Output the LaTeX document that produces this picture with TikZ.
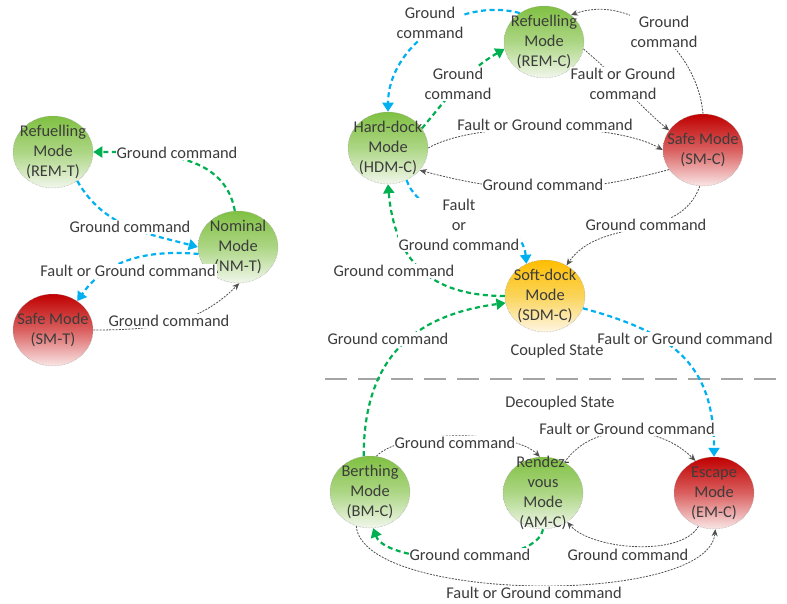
\documentclass[tikz,border=0pt]{standalone}
\usepackage{fontspec}
\setmainfont{Carlito}
\usetikzlibrary{shapes.geometric,arrows.meta}

\definecolor{txt}{RGB}{60,60,60}
\definecolor{cblue}{RGB}{0,176,240}
\definecolor{cgreen}{RGB}{0,176,80}
\definecolor{cgray}{RGB}{80,80,80}
\definecolor{gtop}{RGB}{128,192,66}
\definecolor{gmid}{RGB}{172,214,132}
\definecolor{gbot}{RGB}{242,247,236}
\definecolor{rtop}{RGB}{192,0,0}
\definecolor{rmid}{RGB}{218,96,96}
\definecolor{rbot}{RGB}{250,230,230}
\definecolor{otop}{RGB}{255,190,0}
\definecolor{omid}{RGB}{250,212,90}
\definecolor{obot}{RGB}{255,246,228}
\definecolor{sepgray}{RGB}{165,165,165}

\begin{document}
\begin{tikzpicture}[x=1pt,y=1pt,
  font=\fontsize{16.4}{20}\selectfont,
  mode/.style={ellipse, minimum width=80pt, minimum height=72pt,
    inner sep=-15pt, align=center, text=txt,
    draw=gray!75, densely dotted, line width=0.5pt},
  okmode/.style={mode, top color=gtop, bottom color=gbot, middle color=gmid},
  badmode/.style={mode, top color=rtop, bottom color=rbot, middle color=rmid},
  dockmode/.style={mode, top color=otop, bottom color=obot, middle color=omid},
  lbl/.style={fill=white, inner sep=1pt, text=txt, align=center},
  grayedge/.style={draw=cgray, line width=0.8pt, dash pattern=on 2pt off 1.2pt,
    -{Stealth[length=7pt,width=6pt]}},
  blueedge/.style={draw=cblue, line width=2.2pt, dash pattern=on 5pt off 3.5pt,
    -{Triangle[length=9pt,width=11pt]}},
  greenedge/.style={draw=cgreen, line width=2.2pt, dash pattern=on 5pt off 3.5pt,
    -{Triangle[length=9pt,width=11pt]}},
  sepline/.style={draw=sepgray, line width=2.4pt, dash pattern=on 22pt off 11pt}]

\useasboundingbox (0,0) rectangle (787,-604);

% ---- modes of the tanker (left)
\node[okmode]  (remT) at (53,-152)  {Refuelling\\Mode\\(REM-T)};
\node[okmode]  (nmT)  at (238,-247) {Nominal\\Mode\\(NM-T)};
\node[badmode] (smT)  at (53,-330)  {Safe Mode\\(SM-T)};

% ---- modes of the chaser (right)
\node[okmode]   (remC) at (544,-42)  {Refuelling\\Mode\\(REM-C)};
\node[okmode]   (hdmC) at (388,-148) {Hard-dock\\Mode\\(HDM-C)};
\node[badmode]  (smC)  at (703,-150) {Safe Mode\\(SM-C)};
\node[dockmode] (sdmC) at (545,-296) {Soft-dock\\Mode\\(SDM-C)};
\node[okmode]   (bmC)  at (370,-492) {Berthing\\Mode\\(BM-C)};
\node[okmode]   (amC)  at (543,-493) {Rendez-\\vous\\Mode\\(AM-C)};
\node[badmode]  (emC)  at (714,-493) {Escape\\Mode\\(EM-C)};

% ---- coupled / decoupled separator
\coordinate (sepL) at (325,-379);
\coordinate (sepR) at (787,-379);
\draw[sepline] (sepL) -- (sepR);

% ---- transitions, left
\draw[greenedge] (nmT.95) to[out=100,in=0] (remT.east);
\draw[blueedge] (remT.-50) to[out=-60,in=165] (nmT.west);
\draw[blueedge] (nmT.190) to[out=175,in=55] (smT.50);
\draw[grayedge] (smT.east) to[out=0,in=225] (nmT.-88);

% ---- transitions, coupled state
\draw[blueedge] (remC.130) to[out=165,in=90] (hdmC.north);
\draw[greenedge] (hdmC.30) to[out=50,in=210] (remC.190);
\draw[grayedge] (hdmC.east) to[out=30,in=150,looseness=0.6] (smC.west);
\draw[grayedge] (smC.210) to[out=195,in=-15] (hdmC.-35);
\draw[grayedge] (smC.north) to[out=95,in=20] (remC.45);
\draw[grayedge] (remC.-10) to[out=-40,in=140] (smC.150);
\draw[blueedge] (hdmC.-60) to[out=-70,in=95] (sdmC.120);
\draw[grayedge] (smC.-95) to[out=-110,in=55] (sdmC.55);
\draw[greenedge] (sdmC.west) to[out=180,in=-85,looseness=1.2] (hdmC.south);
\draw[greenedge] (bmC.100) .. controls +(0,100) and +(-90,-12) .. (sdmC.190);
\draw[blueedge] (sdmC.-18) to[out=-15,in=90,looseness=1.2] (emC.north);

% ---- transitions, decoupled state
\draw[grayedge] (bmC.80) to[out=45,in=135,looseness=0.6] (amC.95);
\draw[grayedge] (amC.55) to[out=55,in=135] (emC.120);
\draw[greenedge] (amC.south) to[out=-100,in=-70,looseness=0.6] (bmC.-85);
\draw[grayedge] (emC.-115) to[out=-120,in=-50,looseness=0.7] (amC.-50);
\draw[grayedge] (bmC.-112) to[out=-85,in=-95,looseness=0.55] (emC.-88);

% ---- transition labels
\node[lbl] (l1)  at (177,-153) {Ground command};
\node[lbl] (l2)  at (130,-227) {Ground command};
\node[lbl] (l3)  at (128,-271) {Fault or Ground command};
\node[lbl] (l4)  at (169,-321) {Ground command};
\node[lbl] (l5)  at (430,-23)  {Ground\\command};
\node[lbl] (l6)  at (458,-84)  {Ground\\command};
\node[lbl] (l7)  at (545,-125) {Fault or Ground command};
\node[lbl] (l8)  at (543,-185) {Ground command};
\node[lbl] (l9)  at (664,-32)  {Ground\\command};
\node[lbl] (l10) at (623,-84)  {Fault or Ground\\command};
\node[lbl] (l11) at (459,-225) {Fault\\or\\Ground command};
\node[lbl] (l12) at (646,-225) {Ground command};
\node[lbl] (l13) at (394,-271) {Ground command};
\node[lbl] (l14) at (388,-339) {Ground command};
\node[lbl] (l15) at (685,-339) {Fault or Ground command};
\node[lbl] (l18) at (455,-443) {Ground command};
\node[lbl] (l19) at (627,-429) {Fault or Ground command};
\node[lbl] (l20) at (470,-555) {Ground command};
\node[lbl] (l21) at (628,-555) {Ground command};
\node[lbl] (l22) at (534,-593) {Fault or Ground command};

% ---- state captions
\node[lbl] (coupled)   at (557,-351) {Coupled State};
\node[lbl] (decoupled) at (560,-403) {Decoupled State};

\end{tikzpicture}
\end{document}
